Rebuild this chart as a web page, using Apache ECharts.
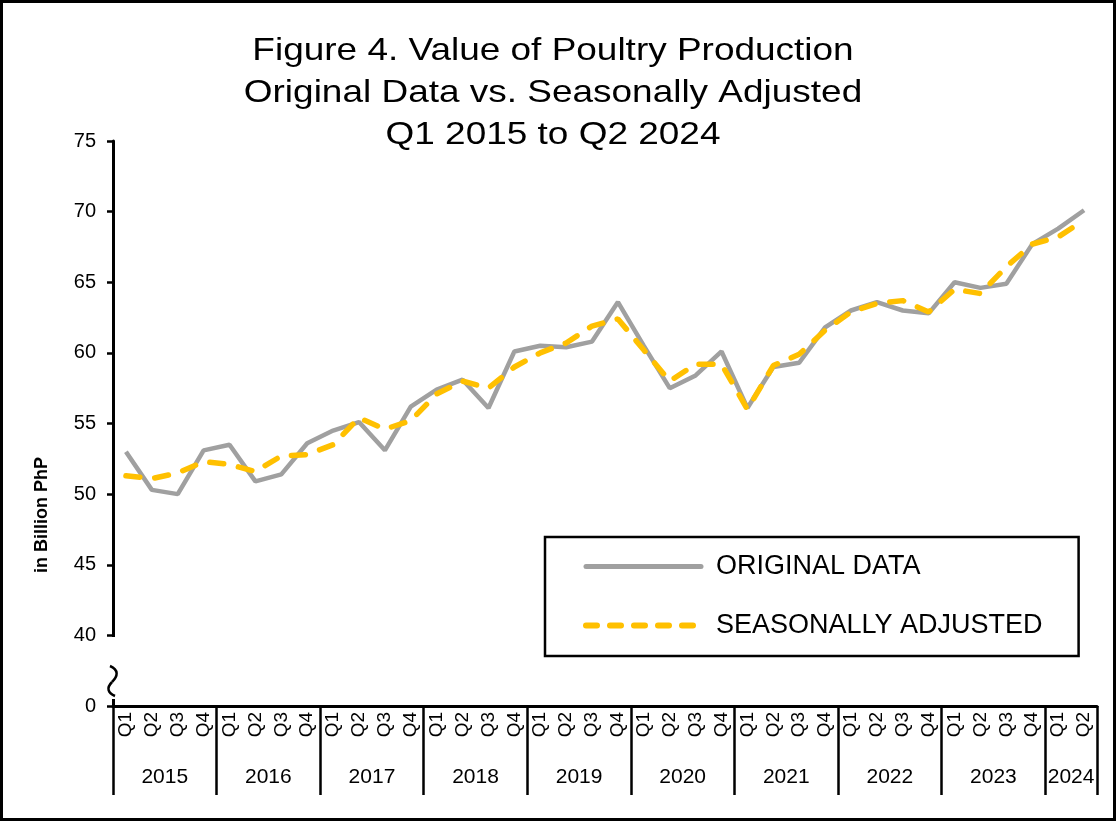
<!DOCTYPE html>
<html><head><meta charset="utf-8">
<script src="https://cdn.jsdelivr.net/npm/echarts@6/dist/echarts.min.js"></script>
<style>html,body{margin:0;padding:0;background:#fff}#c{width:1116px;height:821px}</style>
</head><body><div id="c"></div>
<script>
const years = ['2015','2016','2017','2018','2019','2020','2021','2022','2023','2024'];
const quarters = [];
years.forEach(y => { const n = y === '2024' ? 2 : 4; for (let i = 1; i <= n; i++) quarters.push('Q' + i); });
const original = [53.0,50.3,50.0,53.1, 53.5,50.9,51.4,53.6, 54.5,55.1,53.1,56.2, 57.4,58.1,56.1,60.1,
  60.5,60.4,60.8,63.6, 60.5,57.5,58.4,60.1, 56.1,59.0,59.3,61.8, 63.0,63.6,63.0,62.8, 65.0,64.6,64.9,67.7, 68.8,70.1];
const adjusted = [51.3,51.1,51.5,52.3, 52.1,51.6,52.7,52.8, 53.5,55.4,54.6,55.2, 57.1,58.0,57.5,59.0,
  60.0,60.7,61.9,62.4, 60.2,58.0,59.2,59.2, 56.0,59.1,59.9,61.6, 62.9,63.5,63.7,62.9, 64.5,64.2,66.1,67.7, 68.2,69.4];
const titleLines = ['Figure 4. Value of Poultry Production', 'Original Data vs. Seasonally Adjusted', 'Q1 2015 to Q2 2024'];
const yTickLabels = {35: '0', 40: '40', 45: '45', 50: '50', 55: '55', 60: '60', 65: '65', 70: '70', 75: '75'};
const yearTickPos = [0,4,8,12,16,20,24,28,32,36,38];
const yearLabelPos = [2,6,10,14,18,22,26,30,34,37];

const chart = echarts.init(document.getElementById('c'));
const FONT = 'Liberation Sans, Arial, sans-serif';
const GRAY = '#A0A0A0', GOLD = '#FFC000';
const titleGraphics = titleLines.map((t, i) => ({
  type: 'text', x: 553, y: 51 + i * 42, scaleX: 1.155,
  style: { text: t, font: '32px ' + FONT, fill: '#000', textAlign: 'center', textVerticalAlign: 'middle' }
}));
chart.setOption({
  animation: false,
  backgroundColor: '#fff',
  legend: {
    orient: 'vertical', left: 545, top: 537,
    padding: [16, 36, 17, 38], itemGap: 32, itemWidth: 115, itemHeight: 24,
    borderColor: '#000', borderWidth: 2.5,
    itemStyle: { opacity: 0 },
    textStyle: { fontFamily: FONT, fontSize: 27, color: '#000', padding: [0,0,0,10] },
    data: [
      { name: 'ORIGINAL DATA', lineStyle: { color: GRAY, width: 5, cap: 'round', type: 'solid' } },
      { name: 'SEASONALLY ADJUSTED', lineStyle: { color: GOLD, width: 6, cap: 'round', type: [11, 13] } }
    ]
  },
  grid: { left: 113, top: 141, right: 19, bottom: 115, containLabel: false },
  xAxis: [{
    type: 'category', data: quarters, boundaryGap: true,
    axisLine: { lineStyle: { color: '#000', width: 3 } },
    axisTick: { show: false },
    axisLabel: { rotate: 90, margin: 6, interval: 0, fontFamily: FONT, fontSize: 19, color: '#000' }
  }, {
    type: 'value', min: 0, max: 38, position: 'bottom',
    axisLine: { show: false },
    splitLine: { show: false },
    axisTick: { show: true, customValues: yearTickPos, length: 89, inside: false, lineStyle: { color: '#000', width: 2.5 } },
    axisLabel: { customValues: yearLabelPos, margin: 61, fontFamily: FONT, fontSize: 21, color: '#000',
      formatter: v => years[yearLabelPos.indexOf(v)] || '' }
  }],
  yAxis: {
    type: 'value', min: 35, max: 75, interval: 5,
    axisLine: { show: true, lineStyle: { color: '#000', width: 3 } },
    axisTick: { show: true, length: 6, lineStyle: { color: '#000', width: 2.5 } },
    splitLine: { show: false },
    axisLabel: { margin: 17, fontFamily: FONT, fontSize: 20, color: '#000', formatter: v => yTickLabels[v] || '' }
  },
  series: [{
    name: 'ORIGINAL DATA', type: 'line', data: original, symbol: 'none', xAxisIndex: 0,
    lineStyle: { color: GRAY, width: 4.5 }, itemStyle: { color: GRAY }
  }, {
    name: 'SEASONALLY ADJUSTED', type: 'line', data: adjusted, symbol: 'none', xAxisIndex: 0,
    lineStyle: { color: GOLD, width: 5.5, type: [14, 15], cap: 'round' }, itemStyle: { color: GOLD }
  }],
  graphic: titleGraphics.concat([
    { type: 'rect', shape: { x: 1.5, y: 1.5, width: 1113, height: 818 }, style: { fill: 'none', stroke: '#000', lineWidth: 3 }, silent: true },
    { type: 'text', x: 42, y: 515, rotation: Math.PI / 2,
      style: { text: 'in Billion PhP', font: 'bold 18px ' + FONT, fill: '#000', textAlign: 'center', textVerticalAlign: 'middle' } },
    { type: 'rect', z: 100, shape: { x: 110, y: 637, width: 7, height: 62 }, style: { fill: '#fff' } },
    { type: 'bezierCurve', z: 101, shape: { x1: 110, y1: 666, cpx1: 119, cpy1: 670, cpx2: 118, cpy2: 676, x2: 112, y2: 682 },
      style: { fill: 'none', stroke: '#000', lineWidth: 2.5 } },
    { type: 'bezierCurve', z: 101, shape: { x1: 112, y1: 682, cpx1: 106, cpy1: 688, cpx2: 108, cpy2: 693, x2: 115, y2: 696 },
      style: { fill: 'none', stroke: '#000', lineWidth: 2.5 } }
  ])
});
</script></body></html>
